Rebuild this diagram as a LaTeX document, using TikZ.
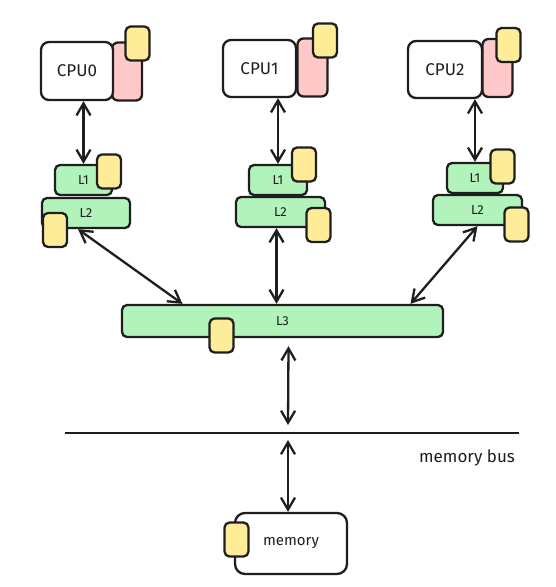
\documentclass[tikz,border=0pt]{standalone}
\usepackage{fontspec}
\setmainfont{Fira Sans}
\usetikzlibrary{arrows.meta}
\definecolor{ink}{HTML}{1E1E1E}
\definecolor{cachegreen}{HTML}{B2F2BB}
\definecolor{regpink}{HTML}{FFC9C9}
\definecolor{tagyellow}{HTML}{FFEC99}
\tikzset{
  box/.style={draw=ink, line width=2.3pt, rounded corners=8pt, fill=white, inner sep=0pt, text=ink},
  cpubox/.style={box, font=\fontsize{17}{19}\selectfont},
  regbox/.style={box, fill=regpink, minimum width=30pt, minimum height=58pt, rounded corners=6pt},
  cachebox/.style={box, fill=cachegreen, minimum height=30pt, rounded corners=5pt, font=\fontsize{13}{15}\selectfont},
  tagbox/.style={box, fill=tagyellow, minimum width=24pt, minimum height=34pt, rounded corners=5pt},
  link/.style={draw=ink, line width=2.3pt, {Straight Barb[length=12pt,width=14pt]}-{Straight Barb[length=12pt,width=14pt]}}
}
\begin{document}
\begin{tikzpicture}[x=1pt,y=-1pt]
\useasboundingbox (0,0) rectangle (555,587);
\node[regbox] (reg0) at (127,71.5) {};
\node[regbox] (reg1) at (312.5,67.5) {};
\node[regbox] (reg2) at (497.5,68) {};
\node[cpubox, minimum width=72pt, minimum height=58pt] (cpu0) at (77,71) {CPU0};
\node[cpubox, minimum width=73pt, minimum height=57pt] (cpu1) at (259.5,68.5) {CPU1};
\node[cpubox, minimum width=74pt, minimum height=57pt] (cpu2) at (445,69.5) {CPU2};
\node[tagbox] (tagc0) at (137.5,43.5) {};
\node[tagbox] (tagc1) at (325,40.5) {};
\node[tagbox] (tagc2) at (508.5,45) {};

\node[cachebox, minimum width=57pt] (l1a) at (83.5,180) {L1};
\node[cachebox, minimum width=58pt] (l1b) at (278,180) {L1};
\node[cachebox, minimum width=56pt] (l1c) at (475,178) {L1};
\node[tagbox] (tagl1a) at (109,171.5) {};
\node[tagbox] (tagl1b) at (304,164.5) {};
\node[tagbox] (tagl1c) at (502.5,166.5) {};

\node[cachebox, minimum width=88pt] (l2a) at (86,213) {L2};
\node[cachebox, minimum width=89pt] (l2b) at (280.5,212) {L2};
\node[cachebox, minimum width=89pt] (l2c) at (477.5,210) {L2};
\node[tagbox] (tagl2a) at (55,230) {};
\node[tagbox] (tagl2b) at (318.5,225) {};
\node[tagbox] (tagl2c) at (516.5,224.5) {};

\node[cachebox, minimum width=321pt, minimum height=32pt] (l3) at (282.5,321) {L3};
\node[tagbox] (tagl3) at (221.5,335.5) {};

\node[box, minimum width=112pt, minimum height=61pt, rounded corners=10pt, font=\fontsize{15}{17}\selectfont] (mem) at (291,543.5) {memory};
\node[tagbox] (tagmem) at (236.5,539.5) {};

\coordinate (busl) at (65,433);
\coordinate (busr) at (519,433);
\coordinate (busmid) at (288,433);
\draw[draw=ink, line width=2.5pt] (busl) -- (busr);
\node[font=\fontsize{17}{19}\selectfont, text=ink] (buslabel) at (467,458) {memory bus};

\draw[link] (cpu0.south -| l1a.north) -- (l1a.north);
\draw[link] (cpu1.south -| l1b.north) -- (l1b.north);
\draw[link] (cpu2.south -| l1c.north) -- (l1c.north);
\draw[link] ([xshift=-8pt]l2a.south) -- ([xshift=-100pt]l3.north);
\draw[link] ([xshift=-4pt]l2b.south) -- ([xshift=-6pt]l3.north);
\draw[link] (l2c.south) -- ([xshift=128pt]l3.north);
\draw[link] ([xshift=6pt,yshift=-8pt]l3.south) -- ([yshift=8pt]busmid);
\draw[link] ([yshift=-7pt]busmid) -- (mem.north -| busmid);
\end{tikzpicture}
\end{document}
